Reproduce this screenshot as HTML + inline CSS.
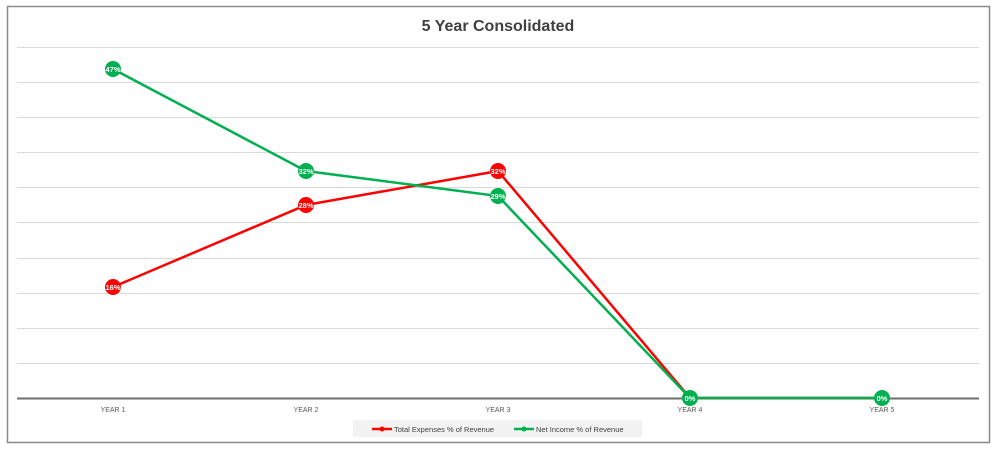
<!DOCTYPE html>
<html><head><style>body{margin:0;background:#fff;}</style></head><body>
<svg width="1005" height="453" xmlns="http://www.w3.org/2000/svg" font-family="Liberation Sans, sans-serif">
<rect x="0" y="0" width="1005" height="453" fill="#fff"/>
<rect x="7.5" y="6.5" width="982" height="436" fill="#fff" stroke="#8a8a8a" stroke-width="1.5"/>
<text x="498" y="31" text-anchor="middle" font-size="16" font-weight="bold" fill="#404040">5 Year Consolidated</text>
<g stroke="#d9d9d9" stroke-width="1">
<line x1="17" x2="979" y1="47.5" y2="47.5"/><line x1="17" x2="979" y1="82.5" y2="82.5"/>
<line x1="17" x2="979" y1="117.5" y2="117.5"/><line x1="17" x2="979" y1="152.5" y2="152.5"/>
<line x1="17" x2="979" y1="187.5" y2="187.5"/><line x1="17" x2="979" y1="222.5" y2="222.5"/>
<line x1="17" x2="979" y1="258.5" y2="258.5"/><line x1="17" x2="979" y1="293.5" y2="293.5"/>
<line x1="17" x2="979" y1="328.5" y2="328.5"/><line x1="17" x2="979" y1="363.5" y2="363.5"/>
</g>
<line x1="17" x2="979" y1="398.5" y2="398.5" stroke="#6e6e6e" stroke-width="2"/>
<g font-size="7" fill="#595959" text-anchor="middle">
<text x="113" y="412">YEAR 1</text><text x="306" y="412">YEAR 2</text><text x="498" y="412">YEAR 3</text><text x="690" y="412">YEAR 4</text><text x="882" y="412">YEAR 5</text>
</g>
<polyline points="113,287 306,205 498,171 690,398 882,398" fill="none" stroke="#ff0000" stroke-width="2.5"/>
<polyline points="113,69 306,171 498,196 690,398 882,398" fill="none" stroke="#00b050" stroke-width="2.5"/>
<g font-size="7.5" font-weight="bold" fill="#fff" text-anchor="middle">
<circle cx="113" cy="287" r="8" fill="#ff0000"/><text x="113" y="290">16%</text>
<circle cx="306" cy="205" r="8" fill="#ff0000"/><text x="306" y="208">28%</text>
<circle cx="498" cy="171" r="8" fill="#ff0000"/><text x="498" y="174">32%</text>
<circle cx="113" cy="69" r="8" fill="#00b050"/><text x="113" y="72">47%</text>
<circle cx="306" cy="171" r="8" fill="#00b050"/><text x="306" y="174">32%</text>
<circle cx="498" cy="196" r="8" fill="#00b050"/><text x="498" y="199">29%</text>
<circle cx="690" cy="398" r="8" fill="#00b050"/><text x="690" y="401">0%</text>
<circle cx="882" cy="398" r="8" fill="#00b050"/><text x="882" y="401">0%</text>
</g>
<rect x="353" y="420" width="289" height="17" fill="#f2f2f2"/>
<line x1="372" x2="392" y1="429" y2="429" stroke="#ff0000" stroke-width="2.5"/><circle cx="382" cy="429" r="2.5" fill="#ff0000"/>
<text x="394" y="432" font-size="7.5" fill="#404040">Total Expenses % of Revenue</text>
<line x1="514" x2="534" y1="429" y2="429" stroke="#00b050" stroke-width="2.5"/><circle cx="524" cy="429" r="2.5" fill="#00b050"/>
<text x="536" y="432" font-size="7.5" fill="#404040">Net Income % of Revenue</text>
</svg>
</body></html>
